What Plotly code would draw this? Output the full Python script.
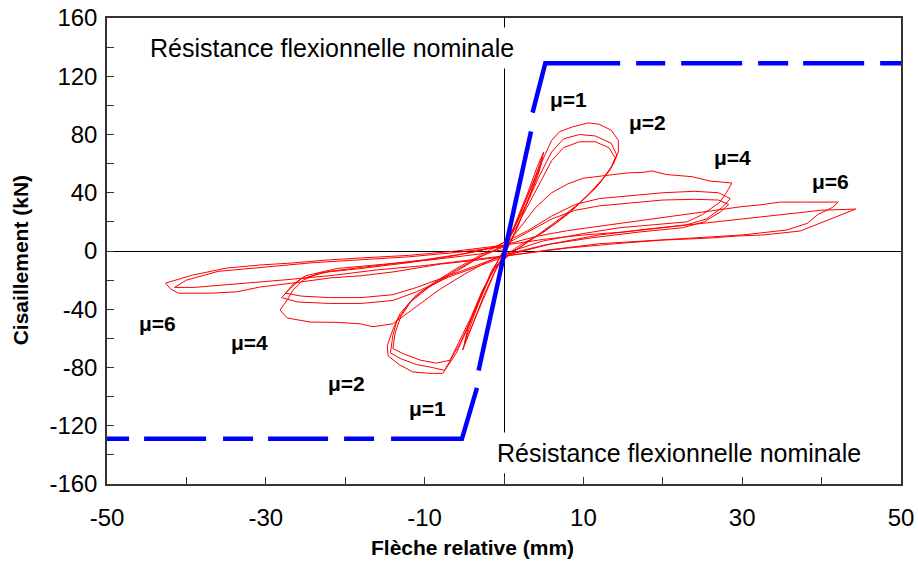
import plotly.graph_objects as go

# ---------------- data ----------------
x_ticks = [-50, -30, -10, 10, 30, 50]
y_ticks = [-160, -120, -80, -40, 0, 40, 80, 120, 160]

# nominal flexural resistance (blue)
nom_mid_x = [-3.2, 3.4]
nom_mid_y = [-82, 82]
nom_top_x = [3.6, 5.2, 50]
nom_top_y = [95, 129, 129]
nom_bot_x = [-3.4, -5.3, -50]
nom_bot_y = [-94, -129, -129]

# hysteresis loops (red), one continuous record per ductility level
mu1_x = [0, 1.5, 3.0, 4.2, 5.0, 4.6, 3.2, 1.8, 0.5, -1.0, -2.5, -3.8, -5.2, -4.7, -3.2, -1.8, -0.5,
         0.8, 2.2, 3.6, 4.8, 4.4, 3.0, 1.6, 0.3, -1.2, -2.6, -3.9, -5.0, -4.5, -3.0, -1.6, 0]
mu1_y = [0, 20, 40, 58, 68, 58, 38, 18, 3, -12, -30, -48, -68, -58, -36, -18, -4,
         10, 28, 46, 64, 54, 34, 15, 0, -15, -33, -50, -64, -52, -32, -14, 0]

mu2_x = [0, 1.5, 3.0, 4.5, 6.0, 7.0, 8.5, 10.6, 12.0, 13.5, 14.4, 14.4, 13.8, 12.5, 10.5, 8.0, 5.0, 2.0,
         0, -1.5, -3.0, -4.5, -6.0, -7.7, -9.5, -11.5, -13.2, -14.6, -14.7, -14.0, -13.1, -11.0, -8.9,
         -6.0, -3.0, 0, 1.5, 3.0, 4.5, 6.0, 7.5, 9.5, 11.5, 13.5, 14.2, 13.6, 12.0, 9.5, 7.0, 4.0, 1.0,
         -1.0, -2.5, -4.0, -5.5, -7.0, -7.5, -9.0, -11.0, -13.0, -14.3, -14.0, -13.5, -12.0, -9.5,
         -6.0, -3.0, 0,
         1.5, 3.0, 4.5, 6.0, 7.5, 9.5, 11.5, 13.2, 14.0, 13.4, 11.5, 9.0, 6.5, 3.5, 0.8,
         -1.2, -2.8, -4.2, -5.6, -6.8, -8.5, -10.5, -12.5, -14.0, -13.7, -13.0, -11.5, -9.0,
         -6.0, -3.0, 0]
mu2_y = [0, 18, 38, 58, 76, 82, 85, 88, 87, 83, 76, 68, 60, 50, 38, 25, 13, 4,
         -4, -14, -32, -52, -70, -84, -84, -83, -78, -72, -65, -54, -43, -30, -22,
         -12, -3, 6, 18, 34, 52, 68, 77, 80, 79, 74, 66, 58, 46, 33, 22, 10, -1,
         -10, -25, -45, -63, -78, -82, -80, -78, -74, -70, -58, -48, -36, -25,
         -14, -4, 4,
         16, 31, 47, 62, 71, 75, 75, 71, 64, 56, 43, 30, 19, 8, -2,
         -12, -28, -46, -62, -75, -77, -75, -71, -67, -56, -45, -33, -23,
         -13, -4, 3]

mu4_x = [0, 2, 4, 6, 8, 10, 13, 15.5, 17.5, 18.6, 20.5, 23.7, 26, 28.7, 28, 27.2, 25, 23, 18.8, 14.6,
         10, 5, 1, -2, -5, -8, -11, -14, -16.5, -18.1, -21, -24.4, -27.3, -28.2, -27.3, -26.6, -25.3,
         -23.2, -18, -12, -6, -1, 3, 6, 9, 12, 16, 20, 24, 27, 28.5, 27.5, 25.5, 23, 18, 12, 6, 1,
         -3, -7, -11, -14, -18, -22, -26, -28, -27, -25.5, -22, -16, -10, -4, 0,
         3, 6, 9, 12, 16, 20, 24, 27, 28.3, 27.3, 25.2, 22.5, 17, 11, 5, 0.5,
         -3, -7, -11, -14, -18, -22, -25.5, -27.5, -26.6, -25, -21, -15, -9, -3, 0]
mu4_y = [2, 16, 30, 40, 46, 50, 52, 53.6, 54, 55, 52.5, 51, 48, 46.7, 40, 33.6, 25, 20, 18, 16,
         12, 7, 0, -7, -16, -26, -38, -50, -52, -50, -49, -48.8, -46, -40.5, -33.6, -27, -20,
         -15, -12, -8, -3, 3, 14, 24, 32, 36, 38, 40, 41, 40, 36, 30, 22, 18, 15, 11, 5, -2,
         -10, -18, -28, -34, -36, -36, -35, -32, -26, -19, -14, -10, -6, -1, 4,
         13, 22, 28, 31, 33, 35, 35.5, 35, 32, 27, 20, 16, 13, 9, 4, -2,
         -9, -17, -25, -30, -32, -32, -31, -29, -23, -17, -12, -9, -6, -2, 1]

mu6_x = [0, 4, 8, 12, 16, 20, 24, 27.2, 30, 32.2, 34.8, 38, 42.1, 41.4, 39.5, 38.2, 35.6, 30, 24, 18,
         12, 6, 1, -3, -8, -14, -18, -21.9, -26.6, -30.7, -33.6, -37, -41, -42, -42.6, -39.2, -34.9,
         -30.7, -26.6, -22.3, -18.1, -12, -6, 0, 5, 10, 15, 20, 25, 30, 35, 40, 44.3, 41.4, 37.3,
         32.6, 29.3, 26, 20, 14, 8, 2, -4, -10, -16, -22, -28, -34, -39, -41.5, -40, -36, -30, -24,
         -18, -12, -6, 0]
mu6_y = [4, 10, 14, 17, 20, 23, 26, 28.8, 30.5, 31.6, 33.6, 33.6, 33.6, 30, 25, 19, 14.4, 11, 9, 7,
         5, 1, -3, -6, -9, -14.4, -17, -18.5, -22, -24.7, -28, -29, -29, -26, -22, -16.5, -11.7,
         -9.6, -8.2, -6.2, -4.8, -3, 0, 4, 8, 11, 13, 16, 19, 22, 25, 28, 28.8, 22.7, 13.7,
         11, 10.3, 8.9, 7.5, 5, 2, -2, -6, -10, -13, -17, -20, -23, -25, -25, -20, -14, -11, -8,
         -6, -4, -1, 3]

mu_labels = ["μ=1", "μ=2", "μ=4", "μ=6", "μ=6", "μ=4", "μ=2", "μ=1"]
mu_label_x = [8.1, 18.1, 28.8, 41.1, -43.7, -32.0, -19.8, -9.6]
mu_label_y = [104, 88, 64, 48, -50, -63, -91, -108]

nominal_text = "Résistance flexionnelle nominale"
nominal_text_x = [-21.7, 22.0]
nominal_text_y = [139.4, -138.7]

x_title = "Flèche relative (mm)"
y_title = "Cisaillement (kN)"

# ---------------- figure ----------------
RED = "#FF0000"
BLUE = "#0000FF"
FONT = "Liberation Sans, Arial, sans-serif"

fig = go.Figure()
for xs, ys in [(mu1_x, mu1_y), (mu2_x, mu2_y), (mu4_x, mu4_y), (mu6_x, mu6_y)]:
    fig.add_trace(go.Scatter(x=xs, y=ys, mode="lines",
                             line=dict(color=RED, width=1), hoverinfo="skip"))

fig.add_trace(go.Scatter(x=nom_mid_x, y=nom_mid_y, mode="lines",
                         line=dict(color=BLUE, width=4.5)))
fig.add_trace(go.Scatter(x=nom_top_x, y=nom_top_y, mode="lines",
                         line=dict(color=BLUE, width=4.5,
                                   dash="126px,16px,29px,16px,61px,16px,30px,15px,61px,16px,60px")))
fig.add_trace(go.Scatter(x=nom_bot_x, y=nom_bot_y, mode="lines",
                         line=dict(color=BLUE, width=4.5,
                                   dash="124px,17px,30px,16px,60px,15px,30px,17px,62px,15px,40px")))

annotations = []
for t, x, y in zip(mu_labels, mu_label_x, mu_label_y):
    annotations.append(dict(x=x, y=y, text="<b>%s</b>" % t, showarrow=False,
                            font=dict(family=FONT, size=21, color="black"),
                            xanchor="center", yanchor="middle"))
for x, y in zip(nominal_text_x, nominal_text_y):
    annotations.append(dict(x=x, y=y, text=nominal_text, showarrow=False,
                            font=dict(family=FONT, size=25, color="black"),
                            bgcolor="white", borderpad=6,
                            xanchor="center", yanchor="middle"))
annotations.append(dict(x=0.46, y=-0.137, xref="paper", yref="paper", text="<b>%s</b>" % x_title,
                        showarrow=False, font=dict(family=FONT, size=21, color="black"),
                        xanchor="center", yanchor="middle"))
annotations.append(dict(x=-0.109, y=0.481, xref="paper", yref="paper", text="<b>%s</b>" % y_title,
                        showarrow=False, textangle=-90, font=dict(family=FONT, size=21, color="black"),
                        xanchor="center", yanchor="middle"))

axis_common = dict(showline=True, mirror=True, linecolor="#333333", linewidth=1.5,
                   showgrid=False, ticks="inside", ticklen=7, tickcolor="#333333",
                   automargin=False, ticklabeloverflow="allow",
                   tickfont=dict(family=FONT, size=24, color="black"))

fig.update_layout(
    width=918, height=562,
    margin=dict(l=107, r=17, t=18, b=78, autoexpand=False),
    paper_bgcolor="white", plot_bgcolor="white",
    showlegend=False,
    hovermode=False,
    annotations=annotations,
    xaxis=dict(range=[-50, 50], tickmode="array", tickvals=x_ticks,
               ticktext=[str(v) for v in x_ticks],
               minor=dict(ticks="inside", dtick=10, tick0=-50, ticklen=7, tickcolor="#333333"),
               zeroline=True, zerolinecolor="black", zerolinewidth=1,
               ticklabelstandoff=11, **axis_common),
    yaxis=dict(range=[-160, 160], tickmode="array", tickvals=y_ticks,
               ticktext=[str(v) for v in y_ticks],
               minor=dict(ticks="inside", dtick=20, tick0=-160, ticklen=7, tickcolor="#333333"),
               zeroline=True, zerolinecolor="black", zerolinewidth=1,
               ticklabelstandoff=3, **axis_common),
)

fig.write_html("out.html", config={"displayModeBar": False},
               post_script="document.body.style.margin='0';document.body.style.overflow='hidden';")
